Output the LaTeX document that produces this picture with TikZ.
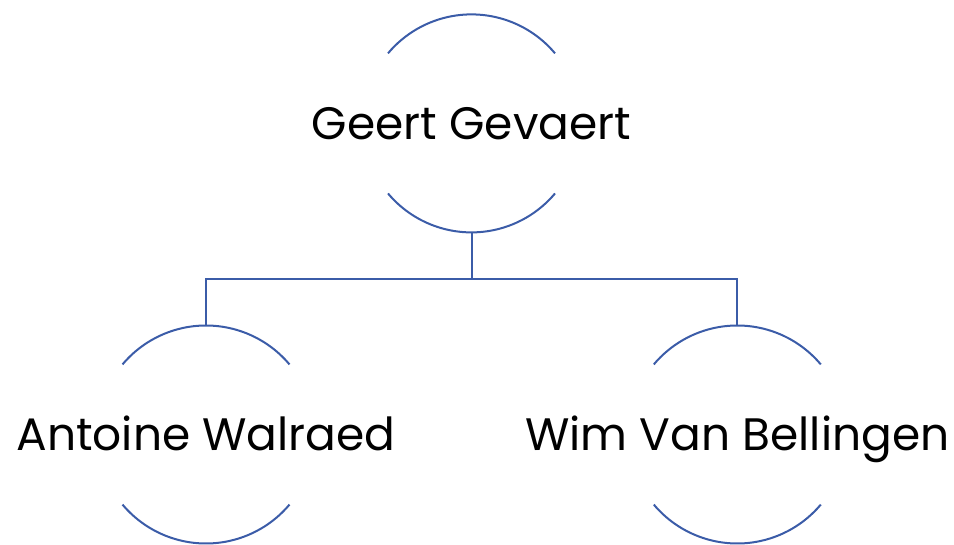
\documentclass[tikz,border=0pt]{standalone}
\usepackage{fontspec}
\setmainfont{Poppins}
\usepackage{xcolor}
\usetikzlibrary{calc}
\definecolor{orgblue}{RGB}{59,92,168}
\tikzset{
  person/.style={inner sep=0pt,text height=33pt,text depth=0pt,font=\fontsize{45.5}{45.5}\selectfont},
  orgline/.style={draw=orgblue,line width=2pt}
}

\begin{document}
\begin{tikzpicture}[x=1pt,y=1pt]
  % drawing parameters
  \pgfmathsetmacro{\rad}{109} % radius of the half circles
  \pgfmathsetmacro{\arcs}{40} % angle where the arcs start
  \pgfmathsetmacro{\ybus}{264.7} % height of the horizontal line

  \useasboundingbox (0,0) rectangle (954,544);

  % people
  \node[person] (boss) at (471.5,420.6) {Geert Gevaert};
  \node[person] (left) at (206,109.5) {Antoine Walraed};
  \node[person] (right) at (737.3,109.5) {Wim Van Bellingen};

  % arcs above and below
  \foreach \n in {boss,left,right} {
    \draw[orgline] ([shift={(\arcs:\rad)}]\n.center) arc (\arcs:180-\arcs:\rad);
    \draw[orgline] ([shift={(180+\arcs:\rad)}]\n.center) arc (180+\arcs:360-\arcs:\rad);
  }

  % connectors
  \coordinate (boss-s) at ([yshift=-\rad]boss.center);
  \coordinate (left-n) at ([yshift=\rad]left.center);
  \coordinate (right-n) at ([yshift=\rad]right.center);
  \coordinate (fork) at (471.5,\ybus);
  \draw[orgline] (boss-s) -- (fork) -| (left-n);
  \draw[orgline] (fork) -| (right-n);
\end{tikzpicture}
\end{document}
